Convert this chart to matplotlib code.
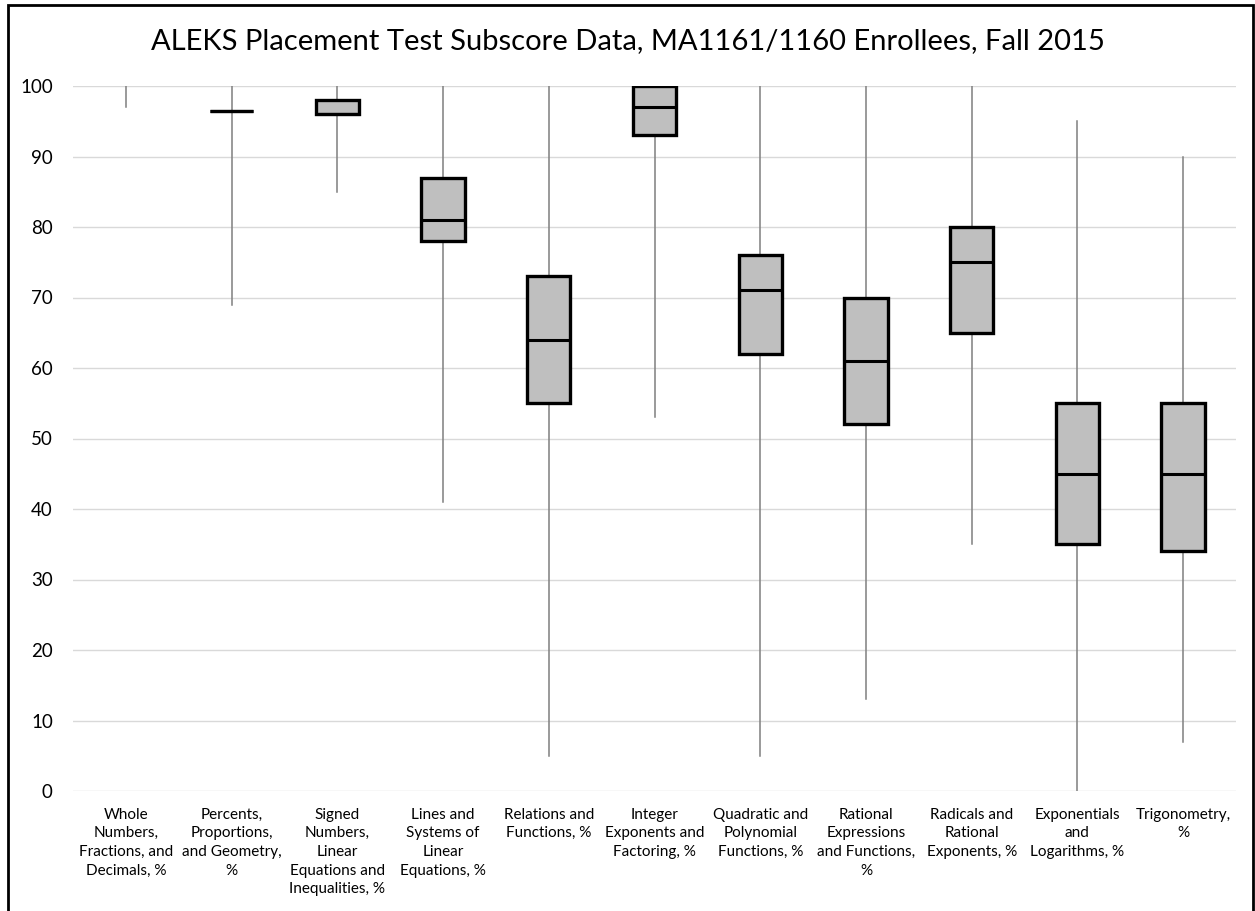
import matplotlib
matplotlib.use("Agg")
import matplotlib.pyplot as plt
from matplotlib.patches import Rectangle

categories = [
    "Whole\nNumbers,\nFractions, and\nDecimals, %",
    "Percents,\nProportions,\nand Geometry,\n%",
    "Signed\nNumbers,\nLinear\nEquations and\nInequalities, %",
    "Lines and\nSystems of\nLinear\nEquations, %",
    "Relations and\nFunctions, %",
    "Integer\nExponents and\nFactoring, %",
    "Quadratic and\nPolynomial\nFunctions, %",
    "Rational\nExpressions\nand Functions,\n%",
    "Radicals and\nRational\nExponents, %",
    "Exponentials\nand\nLogarithms, %",
    "Trigonometry,\n%",
]
mins    = [97, 69,   85, 41,  5, 53,  5, 13, 35,  0,  7]
q1s     = [100, 96.4, 96, 78, 55, 93, 62, 52, 65, 35, 34]
medians = [100, 96.4, 96, 81, 64, 97, 71, 61, 75, 45, 45]
q3s     = [100, 96.4, 98, 87, 73, 100, 76, 70, 80, 55, 55]
maxs    = [100, 100, 100, 100, 100, 100, 100, 100, 100, 95, 90]

title = "ALEKS Placement Test Subscore Data, MA1161/1160 Enrollees, Fall 2015"

plt.rcParams['font.family'] = ['Lato', 'DejaVu Sans']

W, H = 1255, 911
fig = plt.figure(figsize=(W / 100, H / 100), dpi=100)
ax = fig.add_axes([73 / W, 1 - 791 / H, (1236 - 73) / W, (791 - 86) / H])

n = len(categories)
pos = list(range(n))
bw = 0.41
ytop = 100

ax.set_xlim(-0.5, n - 0.5)
ax.set_ylim(0, ytop)
ax.set_yticks(range(0, 101, 10))
ax.yaxis.grid(True, color='#d9d9d9', linewidth=1)
ax.set_axisbelow(True)
for s in ax.spines.values():
    s.set_visible(False)
ax.tick_params(axis='both', length=0)
ax.tick_params(axis='y', labelsize=13.5, pad=14.5)
ax.set_xticks(pos)
ax.set_xticklabels(categories, fontsize=11, linespacing=1.42, va='top')
ax.tick_params(axis='x', pad=12)

for i in pos:
    ax.plot([i, i], [mins[i], maxs[i]], color='#7f7f7f', linewidth=1.1, zorder=2)
    # a box with no height lying on the top of the value axis is not shown
    if q3s[i] - q1s[i] == 0 and q3s[i] >= ytop:
        continue
    ax.add_patch(Rectangle((i - bw / 2, q1s[i]), bw, q3s[i] - q1s[i],
                           facecolor='#bfbfbf', edgecolor='black',
                           linewidth=2.4, zorder=3))
    ax.plot([i - bw / 2, i + bw / 2], [medians[i], medians[i]],
            color='black', linewidth=2.2, zorder=4, solid_capstyle='butt')

fig.text(0.5, 1 - 41 / H, title, ha='center', va='center', fontsize=21)

# figure border
fig.patches.append(Rectangle((8 / W, -0.05), (1253 - 8) / W, 1 - 5 / H + 0.05,
                             transform=fig.transFigure, fill=False,
                             edgecolor='black', linewidth=2))

fig.savefig("out.png", dpi=100)
